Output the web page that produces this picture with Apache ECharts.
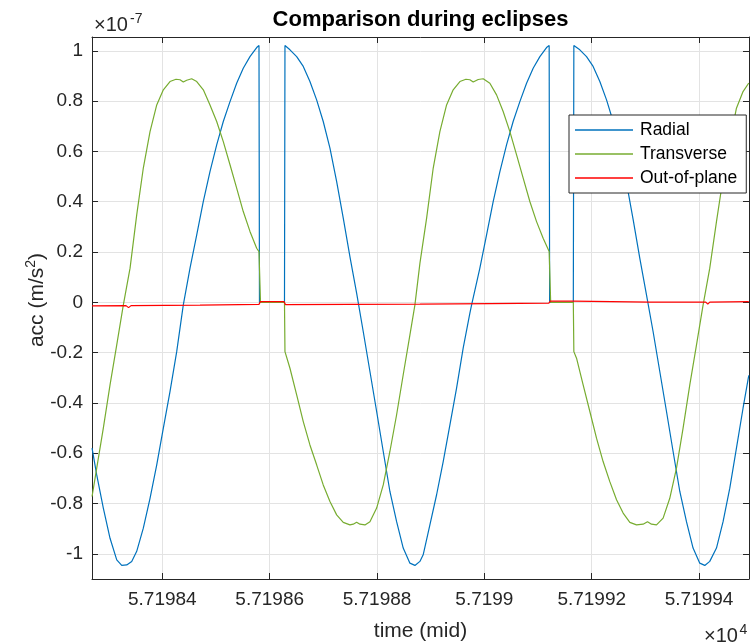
<!DOCTYPE html>
<html>
<head>
<meta charset="utf-8">
<script src="https://cdn.jsdelivr.net/npm/echarts@6/dist/echarts.min.js"></script>
<style>
  html, body { margin: 0; padding: 0; background: #fff; }
  #chart { width: 752px; height: 644px; }
</style>
</head>
<body>
<div id="chart"></div>
<script>
// Epoch axis (MJD) and acceleration components in units of 1e-7 m/s^2
const xMin = 57198.269;
const xMax = 57199.493;
const yMin = -1.1;
const yMax = 1.055;
const xTicks = [57198.4, 57198.6, 57198.8, 57199.0, 57199.2, 57199.4];
const yTicks = [-1, -0.8, -0.6, -0.4, -0.2, 0, 0.2, 0.4, 0.6, 0.8, 1];
const seriesNames = ['Radial', 'Transverse', 'Out-of-plane'];

const radialTime = [
  57198.2691, 57198.2778, 57198.2901, 57198.3026, 57198.3151, 57198.3244, 57198.3337, 57198.3430,
  57198.3523, 57198.3646, 57198.3771, 57198.3896, 57198.4019, 57198.4143, 57198.4268, 57198.4391,
  57198.4516, 57198.4641, 57198.4764, 57198.4888, 57198.5013, 57198.5136, 57198.5261, 57198.5385,
  57198.5508, 57198.5633, 57198.5758, 57198.5801, 57198.5810, 57198.6276, 57198.6285, 57198.6378,
  57198.6503, 57198.6626, 57198.6750, 57198.6875, 57198.6998, 57198.7123, 57198.7248, 57198.7371,
  57198.7495, 57198.7620, 57198.7743, 57198.7868, 57198.7993, 57198.8116, 57198.8240, 57198.8365,
  57198.8488, 57198.8613, 57198.8706, 57198.8799, 57198.8860, 57198.8985, 57198.9110, 57198.9233,
  57198.9358, 57198.9482, 57198.9605, 57198.9730, 57198.9762, 57198.9916, 57199.0041, 57199.0164,
  57199.0289, 57199.0413, 57199.0536, 57199.0661, 57199.0786, 57199.0909, 57199.1034, 57199.1158,
  57199.1207, 57199.1216, 57199.1657, 57199.1667, 57199.1778, 57199.1903, 57199.2026, 57199.2151,
  57199.2276, 57199.2399, 57199.2523, 57199.2648, 57199.2771, 57199.2896, 57199.3020, 57199.3143,
  57199.3268, 57199.3393, 57199.3516, 57199.3641, 57199.3765, 57199.3888, 57199.4013, 57199.4106,
  57199.4199, 57199.4324, 57199.4447, 57199.4572, 57199.4696, 57199.4819, 57199.4926
];
const radialAcc = [
  -0.58, -0.686, -0.818, -0.938, -1.024, -1.046, -1.044, -1.03,
  -0.99, -0.898, -0.779, -0.646, -0.5, -0.355, -0.196, -0.01,
  0.136, 0.268, 0.401, 0.52, 0.626, 0.719, 0.798, 0.871,
  0.931, 0.977, 1.013, 1.021, 0, 0, 1.021, 1.004,
  0.977, 0.938, 0.878, 0.805, 0.719, 0.613, 0.48, 0.335,
  0.182, 0.037, -0.116, -0.275, -0.434, -0.593, -0.752, -0.872,
  -0.977, -1.037, -1.046, -1.03, -1.004, -0.885, -0.765, -0.633,
  -0.487, -0.341, -0.182, -0.043, -0.01, 0.136, 0.268, 0.4,
  0.52, 0.626, 0.719, 0.798, 0.871, 0.931, 0.977, 1.013,
  1.021, 0, 0, 1.021, 1.004, 0.977, 0.938, 0.878,
  0.805, 0.719, 0.61, 0.475, 0.33, 0.175, 0.03, -0.116,
  -0.275, -0.434, -0.593, -0.752, -0.872, -0.977, -1.037, -1.046,
  -1.03, -0.977, -0.872, -0.739, -0.58, -0.421, -0.29
];

const transverseTime = [
  57198.2691, 57198.2778, 57198.2901, 57198.3026, 57198.3151, 57198.3274, 57198.3399, 57198.3523,
  57198.3646, 57198.3771, 57198.3896, 57198.4019, 57198.4143, 57198.4255, 57198.4330, 57198.4391,
  57198.4454, 57198.4547, 57198.4641, 57198.4764, 57198.4888, 57198.5013, 57198.5136, 57198.5261,
  57198.5385, 57198.5508, 57198.5633, 57198.5758, 57198.5801, 57198.5829, 57198.6276, 57198.6285,
  57198.6317, 57198.6378, 57198.6503, 57198.6626, 57198.6750, 57198.6875, 57198.6998, 57198.7123,
  57198.7248, 57198.7371, 57198.7495, 57198.7557, 57198.7620, 57198.7682, 57198.7775, 57198.7868,
  57198.7993, 57198.8116, 57198.8240, 57198.8365, 57198.8488, 57198.8613, 57198.8706, 57198.8799,
  57198.8924, 57198.9047, 57198.9171, 57198.9296, 57198.9419, 57198.9544, 57198.9656, 57198.9730,
  57198.9792, 57198.9885, 57198.9978, 57199.0102, 57199.0227, 57199.0350, 57199.0475, 57199.0600,
  57199.0723, 57199.0847, 57199.0972, 57199.1095, 57199.1207, 57199.1235, 57199.1657, 57199.1667,
  57199.1717, 57199.1840, 57199.1965, 57199.2089, 57199.2212, 57199.2337, 57199.2462, 57199.2585,
  57199.2710, 57199.2834, 57199.2957, 57199.3039, 57199.3114, 57199.3207, 57199.3330, 57199.3454,
  57199.3579, 57199.3702, 57199.3827, 57199.3952, 57199.4075, 57199.4199, 57199.4324, 57199.4447,
  57199.4572, 57199.4696, 57199.4819, 57199.4926
];
const transverseAcc = [
  -0.772, -0.659, -0.5, -0.328, -0.169, -0.01, 0.136, 0.348,
  0.534, 0.679, 0.785, 0.845, 0.878, 0.887, 0.885, 0.876,
  0.883, 0.889, 0.878, 0.845, 0.785, 0.719, 0.639, 0.547,
  0.454, 0.361, 0.282, 0.215, 0.202, 0, 0, -0.196,
  -0.202, -0.262, -0.368, -0.474, -0.567, -0.646, -0.726, -0.792,
  -0.845, -0.875, -0.885, -0.882, -0.874, -0.882, -0.885, -0.872,
  -0.818, -0.726, -0.593, -0.447, -0.288, -0.129, -0.01, 0.155,
  0.335, 0.534, 0.679, 0.785, 0.845, 0.878, 0.887, 0.885,
  0.876, 0.886, 0.889, 0.871, 0.825, 0.759, 0.679, 0.586,
  0.494, 0.401, 0.321, 0.255, 0.202, 0, 0, -0.196,
  -0.222, -0.328, -0.434, -0.54, -0.633, -0.713, -0.785, -0.838,
  -0.875, -0.885, -0.882, -0.872, -0.882, -0.885, -0.858, -0.779,
  -0.659, -0.5, -0.328, -0.169, -0.01, 0.136, 0.321, 0.494,
  0.639, 0.772, 0.838, 0.872
];

const outOfPlaneTime = [
  57198.2691, 57198.3324, 57198.3371, 57198.3417, 57198.4702, 57198.5801, 57198.5829,
  57198.6266, 57198.6294, 57198.7495, 57198.8799, 57199.0102, 57199.1201, 57199.1229,
  57199.1657, 57199.1685, 57199.3082, 57199.4125, 57199.4162, 57199.4199, 57199.4926
];
const outOfPlaneAcc = [
  -0.014, -0.013, -0.021, -0.013, -0.011, -0.008, 0.003,
  0.003, -0.009, -0.008, -0.007, -0.005, -0.003, 0.005,
  0.005, 0.001, 0.001, 0.001, -0.007, 0.001, 0.003
];

const FONT = '"Liberation Sans", Arial, Helvetica, sans-serif';
const AXIS_COLOR = '#262626';
const GRID_COLOR = '#e3e3e3';
const COLORS = ['#0072BD', '#77AC30', '#FF0000'];

const zip = (t, v) => t.map((x, i) => [x, v[i]]);
const xFmt = v => (v / 1e4).toFixed(5).replace(/0+$/, '').replace(/\.$/, '');
const yFmt = v => String(Math.round(v * 10) / 10);

function boxAxis(position, min, max, ticks, withLabels, fmt, isX) {
  return {
    type: 'value',
    position: position,
    min: min,
    max: max,
    axisLine: { show: true, onZero: false, lineStyle: { color: AXIS_COLOR, width: 1 } },
    axisTick: { show: true, inside: true, length: 6, customValues: ticks,
                lineStyle: { color: AXIS_COLOR, width: 1 } },
    axisLabel: withLabels ? {
      show: true, customValues: ticks, formatter: fmt, color: AXIS_COLOR,
      fontSize: 19, fontFamily: FONT, margin: isX ? 11 : 9
    } : { show: false },
    splitLine: withLabels ? { show: true, lineStyle: { color: GRID_COLOR, width: 1 } } : { show: false }
  };
}

function lineSeries(i, time, acc) {
  return {
    name: seriesNames[i], type: 'line', xAxisIndex: 0, yAxisIndex: 0,
    data: zip(time, acc), symbol: 'none', smooth: false,
    lineStyle: { color: COLORS[i], width: 1.2 }, itemStyle: { color: COLORS[i] }
  };
}

const chart = echarts.init(document.getElementById('chart'), null, { renderer: 'canvas' });

chart.setOption({
  animation: false,
  backgroundColor: '#ffffff',
  textStyle: { fontFamily: FONT },
  grid: { left: 92, right: 3, top: 37, bottom: 65, containLabel: false, outerBoundsMode: 'none' },
  xAxis: [
    boxAxis('bottom', xMin, xMax, xTicks, true, xFmt, true),
    boxAxis('top', xMin, xMax, xTicks, false, null, true)
  ],
  yAxis: [
    boxAxis('left', yMin, yMax, yTicks, true, yFmt, false),
    boxAxis('right', yMin, yMax, yTicks, false, null, false)
  ],
  legend: {
    data: seriesNames,
    orient: 'vertical',
    left: 569,
    top: 115,
    padding: [6, 9, 6, 6],
    icon: 'rect',
    itemWidth: 58,
    itemHeight: 1.5,
    itemGap: 6,
    backgroundColor: '#ffffff',
    borderColor: AXIS_COLOR,
    borderWidth: 1,
    borderRadius: 0,
    selectedMode: false,
    textStyle: { fontSize: 17.5, color: '#000000', fontFamily: FONT, padding: [0, 0, 0, 2] }
  },
  series: [
    lineSeries(0, radialTime, radialAcc),
    lineSeries(1, transverseTime, transverseAcc),
    lineSeries(2, outOfPlaneTime, outOfPlaneAcc)
  ],
  graphic: [
    { type: 'text', x: 420.5, y: 20, silent: true,
      style: { text: 'Comparison during eclipses', font: 'bold 22px ' + FONT, fill: '#000000',
               align: 'center', verticalAlign: 'middle' } },
    { type: 'text', x: 94, y: 25, silent: true,
      style: { text: '×10', font: '20px ' + FONT, fill: AXIS_COLOR, align: 'left', verticalAlign: 'middle' } },
    { type: 'text', x: 130, y: 19, silent: true,
      style: { text: '-7', font: '14px ' + FONT, fill: AXIS_COLOR, align: 'left', verticalAlign: 'middle' } },
    { type: 'text', x: 704, y: 636, silent: true,
      style: { text: '×10', font: '20px ' + FONT, fill: AXIS_COLOR, align: 'left', verticalAlign: 'middle' } },
    { type: 'text', x: 739.5, y: 630, silent: true,
      style: { text: '4', font: '14px ' + FONT, fill: AXIS_COLOR, align: 'left', verticalAlign: 'middle' } },
    { type: 'text', x: 420.5, y: 631, silent: true,
      style: { text: 'time (mid)', font: '21px ' + FONT, fill: AXIS_COLOR, align: 'center', verticalAlign: 'middle' } },
    { type: 'text', x: 36, y: 300, rotation: Math.PI / 2, silent: true,
      style: {
        text: '{n|acc (m/s}{s|2}{n|)}',
        align: 'center', verticalAlign: 'middle',
        rich: {
          n: { fontSize: 21, fontFamily: FONT, fill: AXIS_COLOR, lineHeight: 24, verticalAlign: 'bottom' },
          s: { fontSize: 14, fontFamily: FONT, fill: AXIS_COLOR, lineHeight: 24, verticalAlign: 'top' }
        }
      } }
  ]
});
</script>
</body>
</html>
